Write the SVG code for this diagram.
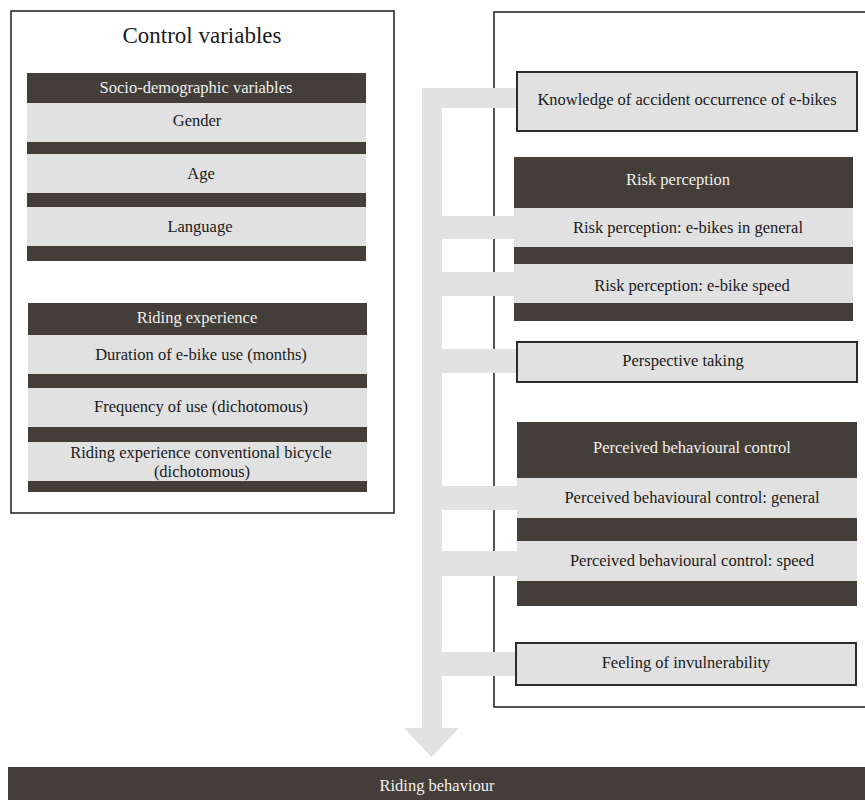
<svg xmlns="http://www.w3.org/2000/svg" width="865" height="800" viewBox="0 0 865 800">
<style>
text{font-family:"Liberation Serif","Times New Roman",serif;font-size:16.5px;text-anchor:middle;}
.hd{fill:#f0f0f0;}
.it{fill:#1a1a1a;}
.dk{fill:#433e38;}
.lt{fill:#e1e1e1;}
.bx{fill:#e1e1e1;stroke:#2e2b28;stroke-width:2;}
.cont{fill:#ffffff;stroke:#2e2b28;stroke-width:1.6;}
.con{fill:#e2e2e2;}
</style>
<rect width="865" height="800" fill="#ffffff"/>
<g id="control-variables">
<rect class="cont" x="11" y="11" width="383" height="502"/>
<text x="202" y="43" style="font-size:23px" class="it">Control variables</text>
</g>
<g id="right-container">
<rect class="cont" x="494" y="12" width="380" height="695"/>
</g>
<g id="connectors">
<rect class="con" x="422" y="88" width="20" height="641"/>
<rect class="con" x="422" y="88" width="96" height="20"/>
<rect class="con" x="442" y="216" width="73" height="23"/>
<rect class="con" x="442" y="272" width="73" height="24"/>
<rect class="con" x="442" y="349" width="76" height="24"/>
<rect class="con" x="442" y="486" width="76" height="24"/>
<rect class="con" x="442" y="551" width="76" height="25"/>
<rect class="con" x="442" y="652" width="75" height="24"/>
<polygon class="con" points="404,728 459,728 431.5,757"/>
</g>
<g id="socio-demographic">
<rect class="dk" x="27" y="73" width="339" height="188"/>
<text x="196" y="93" class="hd">Socio-demographic variables</text>
<rect class="lt" x="27" y="103" width="339" height="39"/>
<text x="197" y="126" class="it">Gender</text>
<rect class="lt" x="27" y="154" width="339" height="39"/>
<text x="201" y="179" class="it">Age</text>
<rect class="lt" x="27" y="207" width="339" height="39"/>
<text x="200" y="232" class="it">Language</text>
</g>
<g id="riding-experience">
<rect class="dk" x="28" y="303" width="339" height="189"/>
<text x="197" y="323" class="hd">Riding experience</text>
<rect class="lt" x="28" y="335" width="339" height="39"/>
<text x="201" y="360" class="it">Duration of e-bike use (months)</text>
<rect class="lt" x="28" y="388" width="339" height="39"/>
<text x="201" y="412" class="it">Frequency of use (dichotomous)</text>
<rect class="lt" x="28" y="442" width="339" height="39"/>
<text x="201" y="458" class="it">Riding experience conventional bicycle</text>
<text x="202" y="477" class="it">(dichotomous)</text>
</g>
<g id="knowledge">
<rect class="bx" x="517" y="72" width="340" height="59"/>
<text x="687" y="105" class="it">Knowledge of accident occurrence of e-bikes</text>
</g>
<g id="risk-perception">
<rect class="dk" x="514" y="157" width="339" height="164"/>
<text x="678" y="185" class="hd">Risk perception</text>
<rect class="lt" x="514" y="208" width="339" height="39"/>
<text x="688" y="233" class="it">Risk perception: e-bikes in general</text>
<rect class="lt" x="514" y="264" width="339" height="39"/>
<text x="692" y="291" class="it">Risk perception: e-bike speed</text>
</g>
<g id="perspective-taking">
<rect class="bx" x="517" y="342" width="340" height="40"/>
<text x="683" y="366" class="it">Perspective taking</text>
</g>
<g id="perceived-behavioural-control">
<rect class="dk" x="517" y="422" width="340" height="184"/>
<text x="692" y="453" class="hd">Perceived behavioural control</text>
<rect class="lt" x="517" y="478" width="340" height="40"/>
<text x="692" y="503" class="it">Perceived behavioural control: general</text>
<rect class="lt" x="517" y="541" width="340" height="40"/>
<text x="692" y="566" class="it">Perceived behavioural control: speed</text>
</g>
<g id="feeling-invulnerability">
<rect class="bx" x="516" y="643" width="340" height="42"/>
<text x="686" y="668" class="it">Feeling of invulnerability</text>
</g>
<g id="riding-behaviour">
<rect class="dk" x="8" y="767" width="870" height="40"/>
<text x="437" y="791" class="hd">Riding behaviour</text>
</g>
</svg>
